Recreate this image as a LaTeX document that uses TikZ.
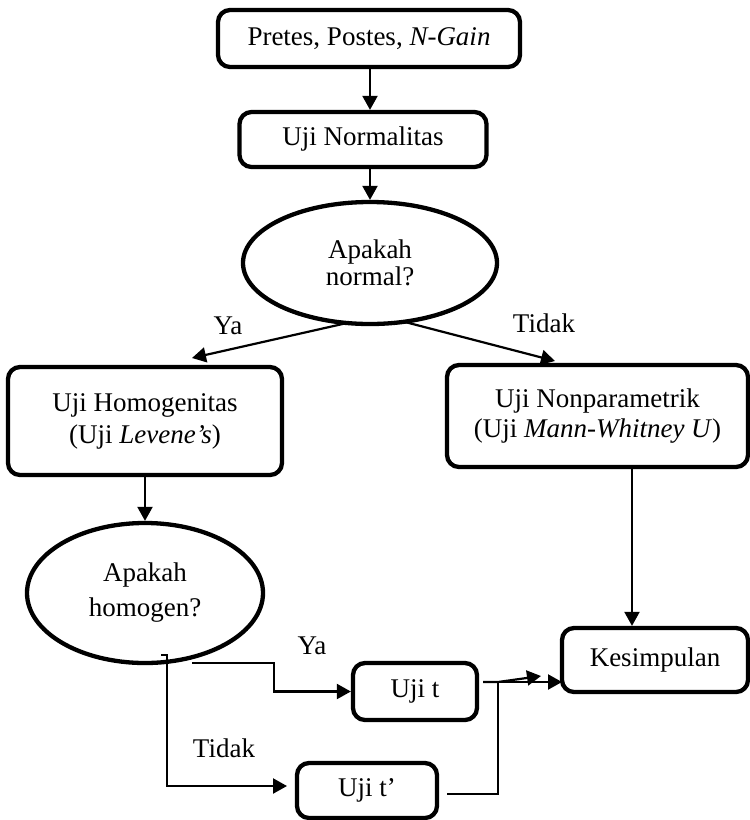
\documentclass[tikz,border=0pt]{standalone}
\usepackage{fontspec}
\setmainfont{Liberation Serif}
\usetikzlibrary{arrows.meta,shapes.geometric,calc}
\tikzset{
  boxn/.style={draw, line width=4.3pt, rounded corners=12pt, align=center, inner sep=0pt},
  elln/.style={draw, ellipse, line width=4.3pt, align=center, inner sep=0pt},
  conn/.style={line width=2.2pt, -{Triangle[length=14pt,width=15pt]}},
  lbl/.style={inner sep=0pt, anchor=base}
}
\begin{document}
\begin{tikzpicture}[x=1pt,y=-1pt,font=\fontsize{27}{31}\selectfont]
\useasboundingbox (0,0) rectangle (750,820);
% nodes
\node[boxn, minimum width=302pt, minimum height=57pt] (pre) at (369,38.5) {Pretes, Postes, \textit{N-Gain}};
\node[boxn, minimum width=247pt, minimum height=55pt] (norm) at (363,139.5) {Uji Normalitas};
\node[elln, minimum width=254pt, minimum height=122pt, font=\fontsize{27}{27}\selectfont] (en) at (370,263) {Apakah\\normal?};
\node[boxn, minimum width=274pt, minimum height=108pt, font=\fontsize{27}{32}\selectfont] (hom) at (145,421) {Uji Homogenitas\\(Uji \textit{Levene’s})};
\node[boxn, minimum width=301pt, minimum height=102pt, font=\fontsize{27}{30}\selectfont] (np) at (597.5,416) {Uji Nonparametrik\\(Uji \textit{Mann-Whitney U})};
\node[elln, minimum width=236pt, minimum height=140pt, font=\fontsize{27}{35}\selectfont] (eh) at (145,593) {Apakah\\homogen?};
\node[boxn, minimum width=186pt, minimum height=64pt] (kes) at (655,660) {Kesimpulan};
\node[boxn, minimum width=124pt, minimum height=57pt] (t1) at (415,691.5) {Uji t};
\node[boxn, minimum width=140pt, minimum height=55pt] (t2) at (367,790.5) {Uji t’};
% labels
\node[lbl] (ya1) at (228,334) {Ya};
\node[lbl] (td1) at (544,332) {Tidak};
\node[lbl] (ya2) at (312,654) {Ya};
\node[lbl] (td2) at (224,757) {Tidak};
% helper coordinates
\coordinate (xa) at (370,0);
\coordinate (ya0) at (347,323);
\coordinate (yat) at (192,358);
\coordinate (tia) at (405,322);
\coordinate (tit) at (555,361);
\coordinate (xk) at (632,0);
\coordinate (ys) at (192,663);
\coordinate (yb) at (274,663);
\coordinate (yc) at (274,691.5);
\coordinate (hs) at (161,655);
\coordinate (hb) at (167,655);
\coordinate (hc) at (167,786);
\coordinate (hd) at (287,786);
\coordinate (ua) at (483,682);
\coordinate (ub) at (498,682);
\coordinate (uc) at (541,676);
\coordinate (va) at (447,794);
\coordinate (vb) at (498,794);
\coordinate (vk) at (562,682);
% connectors
\draw[conn] (pre.south -| xa) -- (norm.north -| xa);
\draw[conn] (norm.south -| xa) -- (en.north -| xa);
\draw[conn] (ya0) -- (yat);
\draw[conn] (tia) -- (tit);
\draw[conn] (hom.south) -- (eh.north);
\draw[conn] (np.south -| xk) -- (kes.north -| xk);
\draw[conn] (ys) -- (yb) -- (yc) -- (t1.west);
\draw[conn] (hs) -- (hb) -- (hc) -- (hd);
\draw[conn] (ua) -- (ub) -- (uc);
\draw[conn] (va) -- (vb) -- (ub) -- (vk);
\end{tikzpicture}
\end{document}
